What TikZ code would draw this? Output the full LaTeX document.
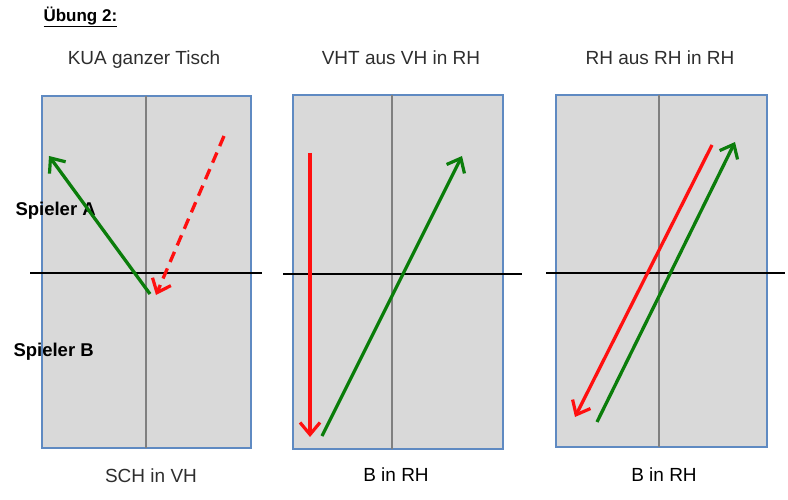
\documentclass[tikz,border=0pt]{standalone}
\usepackage{fontspec}
\setmainfont{Liberation Sans}
\usetikzlibrary{arrows.meta}
\definecolor{tablefill}{HTML}{D9D9D9}
\definecolor{tableedge}{HTML}{5F8AC2}
\definecolor{midgray}{HTML}{808080}
\definecolor{textgray}{HTML}{2E2E2E}
\definecolor{ballgreen}{HTML}{0B7D0B}
\definecolor{ballred}{HTML}{FF1010}
\tikzset{
  tisch/.style={fill=tablefill,draw=tableedge,line width=1.8pt},
  mittel/.style={draw=midgray,line width=1.5pt},
  netz/.style={draw=black,line width=2pt},
  ball/.style={line width=3.3pt,-{Straight Barb[length=12pt,width=20pt,line width=3.2pt]}},
  titel/.style={font=\fontsize{19}{22}\selectfont,text=textgray},
  spieler/.style={font=\fontsize{18.5}{22}\selectfont\bfseries}
}
\begin{document}
\begin{tikzpicture}[x=1pt,y=-1pt]
  \useasboundingbox (0,0) rectangle (788,500);
  % tables: left/top/right/bottom/middle line/net start/net end/net y
  \foreach \n/\l/\t/\r/\b/\m/\s/\e/\y in {1/42/96/251/448/146/30/262/273,2/293/95/503/449/392/283/522/274,3/556/95/767/447/659/546/785/273}{
    \draw[tisch] (\l,\t) rectangle (\r,\b);
    \draw[mittel] (\m,\t) -- (\m,\b);
    \draw[netz] (\s,\y) coordinate (netzA\n) -- (\e,\y) coordinate (netzE\n);
  }
  \node[anchor=west,font=\fontsize{17}{20}\selectfont\bfseries] (uebung) at (40,17) {\underline{Übung 2:}};
  \node[titel] (kopf1) at (144,60) {KUA ganzer Tisch};
  \node[titel] (kopf2) at (401,58) {VHT aus VH in RH};
  \node[titel] (kopf3) at (660,58) {RH aus RH in RH};
  \node[titel] (fuss1) at (151,476) {SCH in VH};
  \node[titel,text=black] (fuss2) at (396,475) {B in RH};
  \node[titel,text=black] (fuss3) at (664,475) {B in RH};
  \node[spieler,anchor=west] (spA) at (12,211) {Spieler A};
  \node[spieler,anchor=west] (spB) at (10,352) {Spieler B};
  \path
    (150,294) coordinate (G1s)
    (49,156) coordinate (G1e)
    (224,136) coordinate (R1s)
    (156,295) coordinate (R1e)
    (310,153) coordinate (R2s)
    (310,437) coordinate (R2e)
    (322,436) coordinate (G2s)
    (462,156) coordinate (G2e)
    (712,145) coordinate (R3s)
    (575,417) coordinate (R3e)
    (597,422) coordinate (G3s)
    (735,142) coordinate (G3e)
    ;
  \draw[ball,ballgreen] (G1s) -- (G1e);
  \draw[ball,ballred,dash pattern=on 11pt off 7pt] (R1s) -- (R1e);
  \draw[ball,ballred] (R2s) -- (R2e);
  \draw[ball,ballgreen] (G2s) -- (G2e);
  \draw[ball,ballred] (R3s) -- (R3e);
  \draw[ball,ballgreen] (G3s) -- (G3e);
\end{tikzpicture}
\end{document}
